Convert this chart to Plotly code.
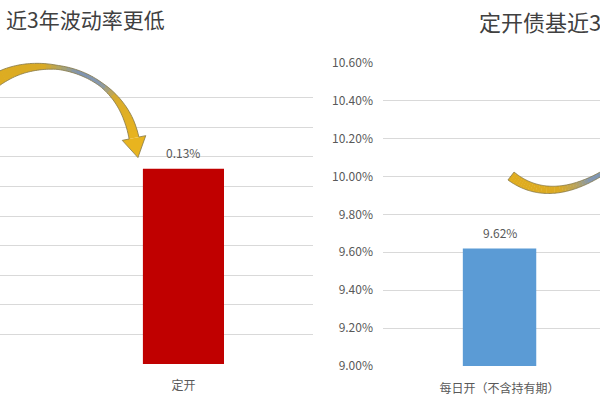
import numpy as np
import plotly.graph_objects as go
from math import comb

# ---- data ----
left_categories = ["定开"]
left_values = [0.132]          # 近3年波动率 (%)
right_categories = ["每日开（不含持有期）"]
right_values = [9.62]          # 近3年收益 (%)
left_title = "近3年波动率更低"
right_title = "定开债基近3"
right_ticks = [9.0, 9.2, 9.4, 9.6, 9.8, 10.0, 10.2, 10.4, 10.6]

W, H = 600, 400
FONT = "Noto Sans CJK SC"
GRID = "#D9D9D9"
LABEL = "#595959"

fig = go.Figure()
fig.add_trace(go.Bar(x=left_categories, y=left_values, marker_color="#C00000",
                     marker_line_width=0, width=0.313, xaxis="x", yaxis="y",
                     hoverinfo="skip"))
fig.add_trace(go.Bar(x=right_categories, y=right_values, marker_color="#5B9BD5",
                     marker_line_width=0, width=0.315, xaxis="x2", yaxis="y2",
                     hoverinfo="skip"))

def px(x):
    return x / W
def py(y):
    return 1 - y / H

# ---- decorative curved arrows (ribbon style) ----
def bez(P, t):
    P = np.asarray(P, float)
    n = len(P) - 1
    t = np.asarray(t)[:, None]
    out = np.zeros((len(t), 2))
    for i in range(n + 1):
        out += comb(n, i) * (1 - t) ** (n - i) * t ** i * P[i]
    return out

def band_pts(P, tk, wk, t0, t1, n=12):
    ts = np.linspace(t0, t1, n)
    c = bez(P, ts)
    eps = 1e-3
    d = bez(P, np.clip(ts + eps, 0, 1)) - bez(P, np.clip(ts - eps, 0, 1))
    d /= np.linalg.norm(d, axis=1)[:, None]
    nrm = np.stack([-d[:, 1], d[:, 0]], axis=1)
    w = np.interp(ts, tk, wk)[:, None] / 2
    return c + nrm * w, c - nrm * w, c, d, nrm

def to_path(pts, close=True):
    s = "M " + " L ".join(f"{px(x):.5f},{py(y):.5f}" for x, y in pts)
    return s + (" Z" if close else "")

def hex2rgb(h):
    h = h.lstrip("#")
    return np.array([int(h[i:i + 2], 16) for i in (0, 2, 4)], float)

def color_at(t, ck, cols):
    rgb = np.array([hex2rgb(c) for c in cols])
    v = [np.interp(t, ck, rgb[:, k]) for k in range(3)]
    return "rgb(%d,%d,%d)" % tuple(int(round(x)) for x in v)

EDGE = "#85784A"
GOLD = "#E0AD1F"
shapes = []

def ribbon(P, tk, wk, ck, cols, head=None, nseg=36):
    edges = np.linspace(0, 1, nseg + 1)
    for i in range(nseg):
        t0, t1 = edges[i], min(1.0, edges[i + 1] + 0.004)
        a, b, *_ = band_pts(P, tk, wk, t0, t1, n=4)
        shapes.append(dict(type="path", xref="paper", yref="paper",
                           path=to_path(list(a) + list(b[::-1])),
                           fillcolor=color_at((t0 + t1) / 2, ck, cols),
                           line=dict(width=0), layer="above"))
    a, b, c, d, nrm = band_pts(P, tk, wk, 0, 1, n=80)
    outline = list(a)
    if head is not None:
        hw, hl = head
        e, de, ne = c[-1], d[-1], nrm[-1]
        tri = [e + ne * hw, e + de * hl, e - ne * hw]
        shapes.append(dict(type="path", xref="paper", yref="paper",
                           path=to_path(tri), fillcolor=cols[-1],
                           line=dict(width=0), layer="above"))
        outline += tri
    outline += list(b[::-1])
    shapes.append(dict(type="path", xref="paper", yref="paper",
                       path=to_path(outline), fillcolor="rgba(0,0,0,0)",
                       line=dict(color=EDGE, width=0.8), layer="above"))

# left arrow
ribbon([(-15, 90), (20, 50), (118, 58), (134, 138)],
       [0, 0.15, 0.3, 0.45, 0.7, 0.8, 0.92, 1],
       [14, 12, 8, 4, 4, 6, 9, 10],
       [0, 0.38, 0.47, 0.56, 0.7, 0.8, 1],
       [GOLD, "#D8AA26", "#AFA466", "#7F94B0", "#8799AE", "#D9AC2C", "#E8B41F"],
       head=(12, 20))
# right arrow
ribbon([(511, 176), (550, 206), (606, 171)],
       [0, 0.5, 1], [10, 7, 4],
       [0, 0.55, 0.72, 0.85, 1],
       [GOLD, "#DBAA22", "#B9A45C", "#8497AE", "#7A93B3"])

annotations = [
    dict(text=left_title, xref="paper", yref="paper", x=px(167), y=py(18.5),
         xanchor="right", yanchor="middle", showarrow=False,
         font=dict(family=FONT, size=21, color="#404040")),
    dict(text=right_title, xref="paper", yref="paper", x=px(477), y=py(21.5),
         xanchor="left", yanchor="middle", showarrow=False,
         font=dict(family=FONT, size=22, color="#404040")),
]
for c, v in zip(left_categories, left_values):
    annotations.append(dict(text=f"{v:.2f}%", x=c, y=v, xref="x", yref="y",
                            yanchor="bottom", yshift=6, showarrow=False,
                            font=dict(family=FONT, size=12, color=LABEL)))
for c, v in zip(right_categories, right_values):
    annotations.append(dict(text=f"{v:.2f}%", x=c, y=v, xref="x2", yref="y2",
                            yanchor="bottom", yshift=5, showarrow=False,
                            font=dict(family=FONT, size=12, color=LABEL)))

axis_font = dict(family=FONT, size=12, color=LABEL)
fig.update_layout(
    template="none",
    width=W, height=H, margin=dict(l=0, r=0, t=0, b=0, pad=0),
    paper_bgcolor="white", plot_bgcolor="white", showlegend=False,
    font=dict(family=FONT, size=12, color=LABEL),
    xaxis=dict(domain=[0, px(313)], range=[-0.708, 0.5], type="category",
               automargin=False, showgrid=False, zeroline=False, showline=False,
               ticks="", tickfont=axis_font, ticklabelstandoff=13),
    yaxis=dict(domain=[py(364), py(68)], range=[0, 0.2], dtick=0.02,
               automargin=False, showticklabels=False, gridcolor=GRID,
               gridwidth=1, zeroline=False, showline=False, ticks=""),
    xaxis2=dict(domain=[px(383), 1], range=[-0.5, 0.431], type="category",
                anchor="y2", automargin=False, showgrid=False, zeroline=False,
                showline=False, ticks="", tickfont=axis_font,
                ticklabelstandoff=14),
    yaxis2=dict(domain=[py(366), py(62.7)], range=[9.0, 10.6], anchor="x2",
                automargin=False, tickmode="array", tickvals=right_ticks,
                ticktext=[f"{t:.2f}%" for t in right_ticks],
                gridcolor=GRID, gridwidth=1, zeroline=False, showline=False,
                ticks="", tickfont=axis_font, ticklabelstandoff=9),
    shapes=shapes, annotations=annotations,
)
fig.write_html("out.html", config={"displayModeBar": False, "staticPlot": True},
               post_script="document.body.style.margin='0';document.body.style.overflow='hidden';")
